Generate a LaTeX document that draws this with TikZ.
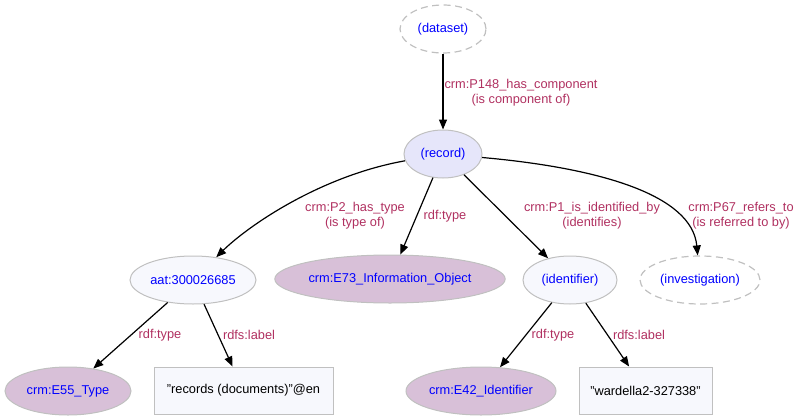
\documentclass[tikz,border=0pt]{standalone}
\usepackage{fontspec}
\setmainfont{Liberation Sans}
\usetikzlibrary{shapes.geometric,arrows.meta}
\definecolor{lblred}{HTML}{B03060}
\definecolor{nodeblue}{HTML}{0000FF}
\definecolor{rim}{HTML}{C0C0C0}
\definecolor{lavfill}{HTML}{E6E6FA}
\definecolor{paleill}{HTML}{F7F8FD}
\definecolor{classfill}{HTML}{D8C0D8}
\begin{document}
\begin{tikzpicture}[x=1pt,y=-1pt,
  font=\fontsize{12.8}{15}\selectfont,
  ent/.style={ellipse, draw=rim, line width=1pt, text=nodeblue, inner sep=0pt, minimum height=48pt},
  blank/.style={ent, line width=1.2pt, dash pattern=on 7pt off 4.5pt, draw=rim},
  cls/.style={ent, fill=classfill},
  lit/.style={rectangle, draw=rim, line width=1pt, fill=paleill, minimum height=47pt, inner sep=0pt},
  lbl/.style={text=lblred, align=center, inner sep=0pt, font=\fontsize{12.8}{15}\selectfont},
  edge/.style={-{Triangle[length=10pt,width=8pt]}, line width=1.2pt}]
\useasboundingbox (0,0) rectangle (800,420);
\node[blank, minimum width=86pt] (dataset) at (443,29){(dataset)};
\node[ent, fill=lavfill, minimum width=78pt] (record) at (443,154){(record)};
\node[ent, fill=paleill, minimum width=126pt] (aat) at (193,280){aat:300026685};
\node[cls, minimum width=220pt] (e73) at (390,279){crm:E73\_Information\_Object};
\node[ent, fill=paleill, minimum width=94pt] (ident) at (570,280){(identifier)};
\node[blank, minimum width=120pt] (invest) at (700,280){(investigation)};
\node[cls, minimum width=126pt] (e55) at (68,391){crm:E55\_Type};
\node[lit, minimum width=179pt] (reclbl) at (243.5,390.5){"records (documents)"@en};
\node[cls, minimum width=150pt] (e42) at (481,391){crm:E42\_Identifier};
\node[lit, minimum width=133pt] (idlbl) at (645.5,390.5){"wardella2-327338"};
\draw[edge](dataset) -- (record);
\node[lbl] (l148) at (521,92.5){crm:P148\_has\_component\\(is component of)};
\draw[edge](record) .. controls (320,176) and (248,226) .. (aat);
\node[lbl] (lp2) at (355,216){crm:P2\_has\_type\\(is type of)};
\draw[edge](record) -- (e73);
\node[lbl] (lty1) at (445,216){rdf:type};
\draw[edge](record) -- (ident);
\node[lbl] (lp1) at (592,216){crm:P1\_is\_identified\_by\\(identifies)};
\draw[edge](record) .. controls (600,168) and (692,195) .. (invest);
\node[lbl] (lp67) at (741,216){crm:P67\_refers\_to\\(is referred to by)};
\draw[edge](aat) -- (e55);
\node[lbl] (lty2) at (160,335){rdf:type};
\draw[edge](aat) -- (reclbl);
\node[lbl] (llb1) at (249,335){rdfs:label};
\draw[edge](ident) -- (e42);
\node[lbl] (lty3) at (553,335){rdf:type};
\draw[edge](ident) -- (idlbl);
\node[lbl] (llb2) at (639,335){rdfs:label};
\end{tikzpicture}
\end{document}
